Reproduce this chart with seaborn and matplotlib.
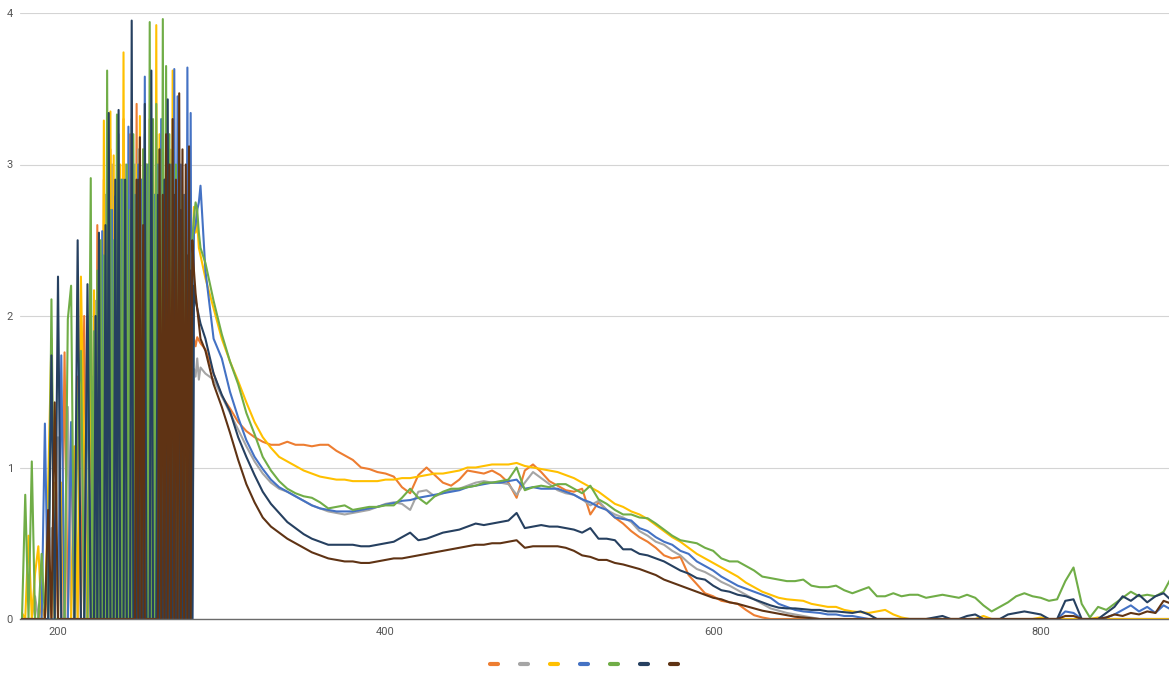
import matplotlib
matplotlib.use("Agg")
import matplotlib.pyplot as plt
from matplotlib.lines import Line2D
import pandas as pd
import seaborn as sns

# Wavelength grid (nm): 2 nm steps below 220 nm, 1 nm steps through the
# saturated UV band, 5 nm steps from 290 nm onwards
wavelength = list(range(178, 220, 2)) + list(range(220, 288)) + list(range(290, 881, 5))

# ---- absorbance, 178-218 nm (2 nm steps) ----
orange_a = [0, 0, 0, 0, 0, 0, 0.1, 0, 0.3, 0,
            0.9, 0, 0, 1.76, 0, 1.2, 0, 1.6, 0, 2.0, 0]
gray_a = [0, 0, 0, 0, 0.15, 0, 0, 0, 0, 0.6,
          0, 1.2, 0, 0, 1.4, 0, 1.0, 0, 1.8, 0, 2.0]
yellow_a = [0.04, 0, 0.55, 0, 0.3, 0.48, 0, 0, 0.88, 1.85,
            0, 0, 0.9, 0, 0, 0, 1.14, 0, 2.26, 1.05, 0]
blue_a = [0, 0, 0, 0, 0, 0, 0, 1.29, 0, 0,
          0, 0, 1.74, 0, 0, 1.3, 0, 0, 0, 0, 1.66]
green_a = [0, 0.82, 0, 1.04, 0, 0, 0.43, 0, 0, 2.11,
           0, 0, 0, 0, 1.98, 2.2, 0, 1.4, 1.77, 0, 0]
navy_a = [0, 0, 0, 0, 0, 0, 0, 0, 0, 1.74,
          0, 2.26, 0, 0, 0, 0, 0, 2.5, 0, 0, 2.21]
brown_a = [0, 0, 0, 0, 0, 0, 0, 0, 0.72, 0,
           1.43, 0, 0, 0, 0, 0, 0, 0, 0, 0, 0]

# ---- absorbance, 220-287 nm (1 nm steps) ----
orange_b = [2.2, 0, 1.8, 0, 2.6, 0, 2.3, 0, 2.9, 0,
            2.5, 0, 3.1, 0, 2.7, 0, 3.0, 0, 2.8, 0,
            3.3, 0, 2.9, 0, 3.2, 0, 2.8, 0, 3.4, 0,
            3.0, 0, 3.1, 0, 2.9, 0, 3.3, 0, 3.0, 0,
            3.2, 0, 2.8, 0, 3.0, 0, 2.7, 0, 3.1, 0,
            2.9, 0, 2.8, 0, 2.5, 0, 2.6, 0, 2.4, 0,
            2.2, 0, 1.9, 1.85, 1.80, 1.86, 1.84, 1.82]
gray_b = [0, 1.6, 0, 2.1, 0, 2.5, 0, 2.2, 0, 2.8,
          0, 2.6, 0, 3.0, 0, 2.7, 0, 3.2, 0, 2.9,
          0, 3.0, 0, 2.8, 0, 3.3, 0, 3.0, 0, 3.1,
          0, 2.9, 0, 3.2, 0, 3.0, 0, 3.3, 0, 2.8,
          0, 3.0, 0, 3.1, 0, 2.8, 0, 2.9, 0, 3.0,
          0, 2.7, 0, 2.9, 0, 2.6, 0, 2.4, 0, 2.2,
          0, 1.9, 0, 1.65, 1.60, 1.72, 1.58, 1.66]
yellow_b = [1.7, 0, 2.17, 0, 1.9, 0, 2.4, 0, 3.29, 0,
            2.9, 0, 3.35, 0, 3.06, 0, 2.7, 0, 3.0, 0,
            3.74, 0, 2.9, 0, 2.5, 0, 2.8, 0, 3.0, 0,
            3.32, 0, 2.6, 0, 3.0, 0, 2.9, 0, 3.1, 0,
            3.92, 0, 3.2, 0, 2.7, 0, 3.0, 0, 3.1, 0,
            3.62, 0, 2.8, 0, 3.0, 0, 2.7, 0, 2.5, 0,
            2.6, 0, 2.3, 2.72, 2.55, 2.62, 2.45, 2.40]
blue_b = [0, 1.5, 0, 2.0, 0, 2.1, 0, 2.56, 0, 2.2,
          0, 2.4, 0, 2.7, 0, 2.79, 0, 2.5, 0, 2.9,
          0, 2.7, 0, 3.25, 0, 2.6, 0, 2.8, 0, 3.0,
          0, 2.9, 0, 3.58, 0, 3.0, 0, 3.1, 0, 2.8,
          0, 3.0, 0, 3.3, 0, 2.9, 0, 3.1, 0, 3.0,
          0, 3.63, 0, 3.45, 0, 3.0, 0, 2.8, 0, 3.64,
          0, 3.34, 0, 2.55, 2.6, 2.7, 2.75, 2.86]
green_b = [2.91, 0, 1.9, 0, 2.3, 0, 2.5, 0, 2.4, 0,
           3.62, 0, 2.7, 0, 2.5, 0, 3.33, 0, 2.9, 0,
           2.9, 0, 3.0, 0, 2.7, 0, 3.2, 0, 2.8, 0,
           2.8, 0, 3.1, 0, 3.0, 0, 3.94, 0, 3.3, 0,
           3.4, 0, 3.1, 0, 3.96, 0, 3.65, 0, 3.2, 0,
           3.1, 0, 3.0, 0, 2.9, 0, 2.8, 0, 2.7, 0,
           2.6, 0, 2.5, 2.65, 2.75, 2.7, 2.55, 2.45]
navy_b = [0, 0, 0, 2.0, 0, 2.55, 0, 0, 0, 2.6,
          0, 3.34, 0, 0, 0, 2.9, 0, 3.36, 0, 0,
          0, 2.9, 0, 0, 0, 3.95, 0, 0, 0, 2.9,
          0, 0, 0, 3.40, 0, 0, 0, 3.62, 0, 0,
          0, 2.8, 0, 0, 0, 2.9, 0, 3.43, 0, 0,
          0, 2.8, 0, 0, 0, 2.7, 0, 0, 0, 2.4,
          0, 2.3, 0, 2.2, 2.1, 2.05, 2.0, 1.95]
brown_b = [0, 0, 0, 0, 0, 0, 0, 0, 0, 0,
           0, 0, 0, 0, 0, 0, 0, 0, 0, 0,
           0, 0, 0, 0, 0, 0, 0, 0, 2.9, 0,
           3.18, 0, 2.6, 0, 0, 0, 0, 0, 0, 0,
           0, 0, 3.1, 0, 2.8, 0, 3.2, 0, 3.0, 0,
           3.3, 0, 2.9, 0, 3.47, 0, 3.1, 0, 3.0, 0,
           3.12, 0, 2.5, 2.3, 2.15, 2.05, 1.95, 1.85]

# ---- absorbance, 290-880 nm (5 nm steps) ----
orange_c = [1.78, 1.62, 1.47, 1.39, 1.30, 1.24, 1.20, 1.17, 1.15, 1.15,
            1.17, 1.15, 1.15, 1.14, 1.15, 1.15, 1.11, 1.08, 1.05, 1.00,
            0.99, 0.97, 0.96, 0.94, 0.87, 0.83, 0.95, 1.00, 0.95, 0.90,
            0.88, 0.92, 0.98, 0.97, 0.96, 0.98, 0.95, 0.90, 0.80, 0.98,
            1.02, 0.97, 0.91, 0.88, 0.85, 0.84, 0.86, 0.69, 0.77, 0.72,
            0.67, 0.63, 0.58, 0.54, 0.51, 0.47, 0.42, 0.40, 0.41, 0.29,
            0.23, 0.17, 0.15, 0.12, 0.11, 0.10, 0.06, 0.025, 0.01, 0,
            0, 0, 0, 0, 0, 0, 0, 0, 0, 0,
            0, 0, 0, 0, 0, 0, 0, 0, 0, 0,
            0, 0, 0, 0, 0, 0, 0, 0, 0, 0,
            0, 0, 0, 0, 0, 0, 0, 0, 0, 0,
            0, 0, 0, 0, 0, 0, 0, 0, 0]
gray_c = [1.62, 1.58, 1.47, 1.36, 1.25, 1.14, 1.04, 0.96, 0.90, 0.86,
          0.84, 0.81, 0.78, 0.75, 0.73, 0.71, 0.70, 0.69, 0.70, 0.71,
          0.72, 0.74, 0.76, 0.77, 0.76, 0.72, 0.84, 0.85, 0.81, 0.83,
          0.85, 0.86, 0.88, 0.90, 0.91, 0.90, 0.90, 0.89, 0.82, 0.90,
          0.97, 0.93, 0.89, 0.85, 0.83, 0.82, 0.79, 0.75, 0.78, 0.72,
          0.69, 0.67, 0.64, 0.58, 0.55, 0.51, 0.49, 0.45, 0.42, 0.37,
          0.33, 0.31, 0.28, 0.245, 0.22, 0.19, 0.16, 0.13, 0.10, 0.07,
          0.055, 0.04, 0.03, 0.02, 0.01, 0, 0, 0, 0, 0,
          0, 0, 0, 0, 0, 0, 0, 0, 0, 0,
          0, 0, 0, 0, 0, 0, 0, 0, 0, 0,
          0, 0, 0, 0, 0, 0, 0, 0, 0, 0,
          0, 0, 0, 0, 0, 0, 0, 0, 0]
yellow_c = [2.25, 2.05, 1.85, 1.70, 1.57, 1.43, 1.30, 1.20, 1.13, 1.07,
            1.04, 1.01, 0.98, 0.96, 0.94, 0.93, 0.92, 0.92, 0.91, 0.91,
            0.91, 0.91, 0.92, 0.92, 0.93, 0.93, 0.94, 0.95, 0.96, 0.96,
            0.97, 0.98, 1.00, 1.00, 1.01, 1.02, 1.02, 1.02, 1.03, 1.01,
            1.00, 0.99, 0.98, 0.97, 0.95, 0.93, 0.90, 0.87, 0.84, 0.80,
            0.76, 0.74, 0.71, 0.69, 0.66, 0.62, 0.58, 0.54, 0.51, 0.47,
            0.43, 0.40, 0.37, 0.34, 0.31, 0.28, 0.24, 0.21, 0.18, 0.16,
            0.14, 0.13, 0.125, 0.12, 0.10, 0.09, 0.08, 0.08, 0.06, 0.05,
            0.045, 0.04, 0.05, 0.06, 0.03, 0.01, 0, 0, 0, 0,
            0, 0, 0, 0, 0, 0.02, 0, 0, 0, 0,
            0, 0, 0.01, 0, 0, 0, 0, 0, 0, 0.01,
            0, 0, 0, 0, 0, 0, 0, 0, 0]
blue_c = [2.30, 1.85, 1.72, 1.50, 1.33, 1.18, 1.07, 0.99, 0.92, 0.87,
          0.84, 0.81, 0.78, 0.75, 0.73, 0.72, 0.71, 0.71, 0.71, 0.72,
          0.73, 0.74, 0.755, 0.765, 0.78, 0.785, 0.80, 0.81, 0.82, 0.83,
          0.84, 0.85, 0.87, 0.88, 0.89, 0.90, 0.90, 0.91, 0.92, 0.86,
          0.87, 0.86, 0.86, 0.86, 0.84, 0.82, 0.79, 0.77, 0.74, 0.72,
          0.67, 0.66, 0.65, 0.60, 0.58, 0.54, 0.51, 0.49, 0.45, 0.43,
          0.38, 0.35, 0.32, 0.28, 0.25, 0.22, 0.20, 0.18, 0.16, 0.14,
          0.10, 0.08, 0.06, 0.05, 0.045, 0.04, 0.03, 0.03, 0.02, 0.02,
          0.01, 0, 0, 0, 0, 0, 0, 0, 0, 0,
          0, 0, 0, 0, 0, 0, 0, 0, 0, 0,
          0, 0, 0, 0, 0, 0.05, 0.04, 0, 0, 0,
          0.01, 0.03, 0.06, 0.09, 0.05, 0.08, 0.04, 0.09, 0.06]
green_c = [2.35, 2.10, 1.88, 1.70, 1.55, 1.36, 1.22, 1.07, 0.98, 0.91,
           0.86, 0.83, 0.81, 0.80, 0.77, 0.73, 0.74, 0.75, 0.72, 0.73,
           0.74, 0.74, 0.75, 0.75, 0.80, 0.86, 0.80, 0.76, 0.81, 0.84,
           0.86, 0.86, 0.87, 0.88, 0.90, 0.90, 0.91, 0.92, 1.00, 0.85,
           0.87, 0.88, 0.87, 0.89, 0.89, 0.86, 0.83, 0.88, 0.79, 0.76,
           0.72, 0.69, 0.69, 0.67, 0.665, 0.63, 0.59, 0.55, 0.52, 0.51,
           0.50, 0.47, 0.45, 0.40, 0.38, 0.38, 0.35, 0.32, 0.28, 0.27,
           0.26, 0.25, 0.25, 0.26, 0.22, 0.21, 0.21, 0.22, 0.19, 0.17,
           0.19, 0.21, 0.15, 0.15, 0.17, 0.15, 0.16, 0.16, 0.14, 0.15,
           0.16, 0.15, 0.14, 0.16, 0.14, 0.09, 0.05, 0.08, 0.11, 0.15,
           0.17, 0.15, 0.14, 0.12, 0.13, 0.25, 0.34, 0.10, 0.01, 0.08,
           0.06, 0.10, 0.14, 0.18, 0.15, 0.16, 0.15, 0.18, 0.28]
navy_c = [1.85, 1.62, 1.48, 1.37, 1.20, 1.07, 0.95, 0.84, 0.76, 0.70,
          0.64, 0.60, 0.56, 0.53, 0.51, 0.49, 0.49, 0.49, 0.49, 0.48,
          0.48, 0.49, 0.50, 0.51, 0.54, 0.57, 0.52, 0.53, 0.55, 0.57,
          0.58, 0.59, 0.61, 0.63, 0.62, 0.63, 0.64, 0.65, 0.70, 0.60,
          0.61, 0.62, 0.61, 0.61, 0.60, 0.59, 0.57, 0.60, 0.53, 0.53,
          0.52, 0.46, 0.46, 0.43, 0.42, 0.40, 0.38, 0.35, 0.32, 0.30,
          0.27, 0.26, 0.22, 0.19, 0.18, 0.16, 0.15, 0.13, 0.11, 0.09,
          0.075, 0.07, 0.07, 0.065, 0.06, 0.06, 0.05, 0.05, 0.045, 0.04,
          0.05, 0.03, 0, 0, 0, 0, 0, 0, 0, 0.01,
          0.02, 0, 0, 0.02, 0.03, 0, 0, 0, 0.03, 0.04,
          0.05, 0.04, 0.03, 0, 0, 0.12, 0.13, 0, 0, 0,
          0.04, 0.08, 0.15, 0.12, 0.16, 0.11, 0.15, 0.17, 0.12]
brown_c = [1.77, 1.55, 1.40, 1.23, 1.05, 0.89, 0.77, 0.67, 0.61, 0.57,
           0.53, 0.50, 0.47, 0.44, 0.42, 0.40, 0.39, 0.38, 0.38, 0.37,
           0.37, 0.38, 0.39, 0.40, 0.40, 0.41, 0.42, 0.43, 0.44, 0.45,
           0.46, 0.47, 0.48, 0.49, 0.49, 0.50, 0.50, 0.51, 0.52, 0.47,
           0.48, 0.48, 0.48, 0.48, 0.47, 0.45, 0.42, 0.41, 0.39, 0.39,
           0.37, 0.36, 0.345, 0.33, 0.31, 0.29, 0.26, 0.24, 0.22, 0.20,
           0.18, 0.16, 0.14, 0.13, 0.11, 0.10, 0.085, 0.07, 0.055, 0.045,
           0.035, 0.025, 0.015, 0.01, 0.005, 0, 0, 0, 0, 0,
           0, 0, 0, 0, 0, 0, 0, 0, 0, 0,
           0, 0, 0, 0, 0, 0, 0, 0, 0, 0,
           0, 0, 0, 0, 0, 0.02, 0.02, 0, 0, 0,
           0.01, 0.03, 0.02, 0.04, 0.03, 0.05, 0.04, 0.12, 0.10]

series_names = ["s1", "s2", "s3", "s4", "s5", "s6", "s7"]
series_values = [orange_a + orange_b + orange_c,
                 gray_a + gray_b + gray_c,
                 yellow_a + yellow_b + yellow_c,
                 blue_a + blue_b + blue_c,
                 green_a + green_b + green_c,
                 navy_a + navy_b + navy_c,
                 brown_a + brown_b + brown_c]
colors = ["#ED7D31", "#A5A5A5", "#FFC000", "#4472C4", "#70AD47", "#264060", "#5F3314"]

wide = pd.DataFrame({"wavelength": wavelength,
                     **{n: v for n, v in zip(series_names, series_values)}})
df = wide.melt(id_vars="wavelength", var_name="series", value_name="absorbance")

sns.set_theme(style="white")
plt.rcParams["font.family"] = ["Roboto", "DejaVu Sans"]

W, H = 1169, 673
fig = plt.figure(figsize=(W / 100, H / 100), dpi=100)
ax = fig.add_axes([20 / W, 54 / H, (W - 20) / W, 606 / H])

sns.lineplot(data=df, x="wavelength", y="absorbance", hue="series",
             hue_order=series_names, palette=colors, linewidth=1.5,
             estimator=None, errorbar=None, legend=False, ax=ax)

ax.set_xlim(176.8, 878.3)
ax.set_ylim(0, 4)
ax.set_xticks([200, 400, 600, 800])
ax.set_yticks([0, 1, 2, 3, 4])
ax.set_xlabel("")
ax.set_ylabel("")
ax.yaxis.grid(True, color="#d4d4d4", linewidth=0.8)
ax.xaxis.grid(False)
ax.set_axisbelow(True)
for side in ["top", "right", "left"]:
    ax.spines[side].set_visible(False)
ax.spines["bottom"].set_color("#6b6b6b")
ax.spines["bottom"].set_linewidth(1.0)
ax.tick_params(axis="both", length=0, labelsize=8, labelcolor="#555555")
ax.tick_params(axis="y", pad=5)
ax.tick_params(axis="x", pad=6)

handles = [Line2D([], [], color=c, lw=3, solid_capstyle="round") for c in colors]
fig.legend(handles, [""] * len(handles), loc="center",
           bbox_to_anchor=(584 / W, 1 - 665 / H), ncol=len(handles),
           frameon=False, fontsize=10, handlelength=0.6, handletextpad=0,
           columnspacing=1.56)

fig.savefig("out.png", dpi=100)
